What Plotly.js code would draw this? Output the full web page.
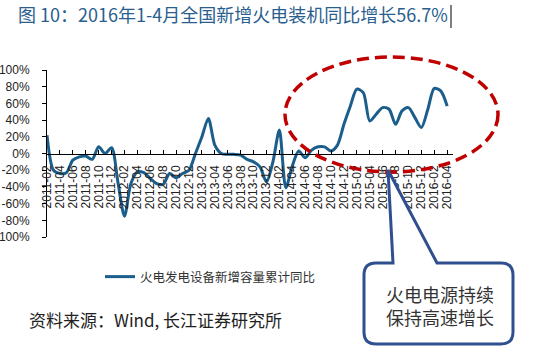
<!DOCTYPE html>
<html>
<head>
<meta charset="utf-8">
<script src="https://cdn.plot.ly/plotly-3.0.1.min.js"></script>
<style>
html,body{margin:0;padding:0;background:#fff;}
#chart{width:545px;height:359px;}
</style>
</head>
<body>
<div id="chart"></div>
<script>
// ---- data ----
var months = [
  "2011-02","2011-03","2011-04","2011-05","2011-06","2011-07","2011-08","2011-09","2011-10","2011-11","2011-12",
  "2012-01","2012-02","2012-03","2012-04","2012-05","2012-06","2012-07","2012-08","2012-09","2012-10","2012-11","2012-12",
  "2013-01","2013-02","2013-03","2013-04","2013-05","2013-06","2013-07","2013-08","2013-09","2013-10","2013-11","2013-12",
  "2014-01","2014-02","2014-03","2014-04","2014-05","2014-06","2014-07","2014-08","2014-09","2014-10","2014-11","2014-12",
  "2015-01","2015-02","2015-03","2015-04","2015-05","2015-06","2015-07","2015-08","2015-09","2015-10","2015-11","2015-12",
  "2016-01","2016-02","2016-03","2016-04"
];
var growth = [
  22, -20, -24, -23, -8, -4, -3, -7, 8, 0, 7,
  -35, -75, -36, -22, -23, -30, -36, -37, -24, -29, -24, -20,
  0, 20, 42, 10, 0, -1, -1, -2, -7, -10, -16, -34,
  -10, 28, -41, -15, 3, -5, 4, 8, 8, 3, 10, 35,
  57, 77, 73, 39, 47, 55, 53, 35, 51, 55, 43, 31,
  53, 78, 75, 56.7
];
var tickLabels = [
  "2011-02","2011-04","2011-06","2011-08","2011-10","2011-12",
  "2012-02","2012-04","2012-06","2012-08","2012-10","2012-12",
  "2013-02","2013-04","2013-06","2013-08","2013-10","2013-12",
  "2014-02","2014-04","2014-06","2014-08","2014-10","2014-12",
  "2015-02","2015-04","2015-06","2015-08","2015-10","2015-12",
  "2016-02","2016-04"
];
var yTickVals = [-100,-80,-60,-40,-20,0,20,40,60,80,100];
var yTickText = ["-100%","-80%","-60%","-40%","-20%","0%","20%","40%","60%","80%","100%"];
var seriesName = "火电发电设备新增容量累计同比";
var titleText = "图 10：2016年1-4月全国新增火电装机同比增长56.7%";
var sourceText = "资料来源：Wind, 长江证券研究所";
var calloutText = "火电电源持续<br>保持高速增长";

// ---- geometry helpers (pixel -> paper) ----
var W = 545, H = 359;
var mL = 47, mR = 92, mT = 70, mB = 122;
var PW = W - mL - mR, PH = H - mT - mB;
function px(x){ return (x - mL) / PW; }
function py(y){ return (H - mB - y) / PH; }

// callout path
function calloutPath(){
  var l=364, r=513, t=263, b=344, rad=12;
  var n1=393, n2=437, tipx=388, tipy=170;
  var P = function(x,y){ return px(x).toFixed(5)+','+py(y).toFixed(5); };
  return 'M'+P(l+rad,t)+
    ' L'+P(n1,t)+' L'+P(tipx,tipy)+' L'+P(n2,t)+
    ' L'+P(r-rad,t)+' Q'+P(r,t)+' '+P(r,t+rad)+
    ' L'+P(r,b-rad)+' Q'+P(r,b)+' '+P(r-rad,b)+
    ' L'+P(l+rad,b)+' Q'+P(l,b)+' '+P(l,b-rad)+
    ' L'+P(l,t+rad)+' Q'+P(l,t)+' '+P(l+rad,t)+' Z';
}

var trace = {
  type: 'scatter',
  mode: 'lines',
  x: months,
  y: growth,
  name: seriesName,
  line: {color: '#1B5E8C', width: 3, shape: 'spline', smoothing: 0.8},
  cliponaxis: true
};

var axisFont = {family: 'Arial, "Liberation Sans", sans-serif', size: 12, color: '#222'};

var layout = {
  width: W, height: H,
  margin: {l: mL, r: mR, t: mT, b: mB, pad: 0},
  paper_bgcolor: '#fff',
  plot_bgcolor: 'rgba(0,0,0,0)',
  showlegend: true,
  legend: {
    x: px(100), y: py(277), xanchor: 'left', yanchor: 'middle',
    bgcolor: 'rgba(0,0,0,0)',
    font: {family: '"Noto Sans CJK SC", sans-serif', size: 12.5, color: '#333'},
    itemwidth: 30
  },
  title: {
    text: titleText,
    x: 18/W, xanchor: 'left', xref: 'container',
    y: 1 - 16/H, yanchor: 'middle', yref: 'container',
    font: {family: '"Noto Sans CJK SC", sans-serif', size: 18, color: '#2A5E8E'}
  },
  xaxis: {
    type: 'category',
    range: [0, 62.9],
    anchor: 'free',
    position: 0.5,
    showline: true, linecolor: '#000', linewidth: 1,
    ticks: 'inside', ticklen: 4, tickcolor: '#000', tickwidth: 1,
    tickmode: 'array', tickvals: tickLabels, ticktext: tickLabels,
    tickangle: -90,
    tickfont: axisFont,
    ticklabelstandoff: 6,
    showgrid: false, zeroline: false
  },
  yaxis: {
    range: [-100, 100],
    showline: true, linecolor: '#000', linewidth: 1,
    ticks: 'outside', ticklen: 4, tickcolor: '#000', tickwidth: 1,
    tickmode: 'array', tickvals: yTickVals, ticktext: yTickText,
    tickfont: axisFont,
    ticklabelstandoff: 10,
    showgrid: false, zeroline: false
  },
  shapes: [
    {
      type: 'circle', xref: 'paper', yref: 'paper', layer: 'above',
      x0: px(285), x1: px(498), y0: py(172), y1: py(57),
      line: {color: '#C00000', width: 3.5, dash: '12px,6px'}
    },
    {
      type: 'path', xref: 'paper', yref: 'paper', layer: 'above',
      path: calloutPath(),
      fillcolor: '#ffffff',
      line: {color: '#2F4F8F', width: 3}
    },
    {
      type: 'line', xref: 'paper', yref: 'paper', layer: 'above',
      x0: px(451), x1: px(451), y0: py(5), y1: py(28),
      line: {color: '#000', width: 1}
    }
  ],
  annotations: [
    {
      text: sourceText, xref: 'paper', yref: 'paper', showarrow: false,
      x: px(27), y: py(319), xanchor: 'left', yanchor: 'middle',
      font: {family: '"Noto Sans CJK SC", sans-serif', size: 17, color: '#222'}
    },
    {
      text: calloutText, xref: 'paper', yref: 'paper', showarrow: false,
      x: px(440), y: py(305), xanchor: 'center', yanchor: 'middle', align: 'left',
      font: {family: '"Noto Sans CJK SC", sans-serif', size: 18, color: '#333'}
    }
  ]
};

Plotly.newPlot('chart', [trace], layout, {displayModeBar: false, staticPlot: true});
</script>
</body>
</html>
